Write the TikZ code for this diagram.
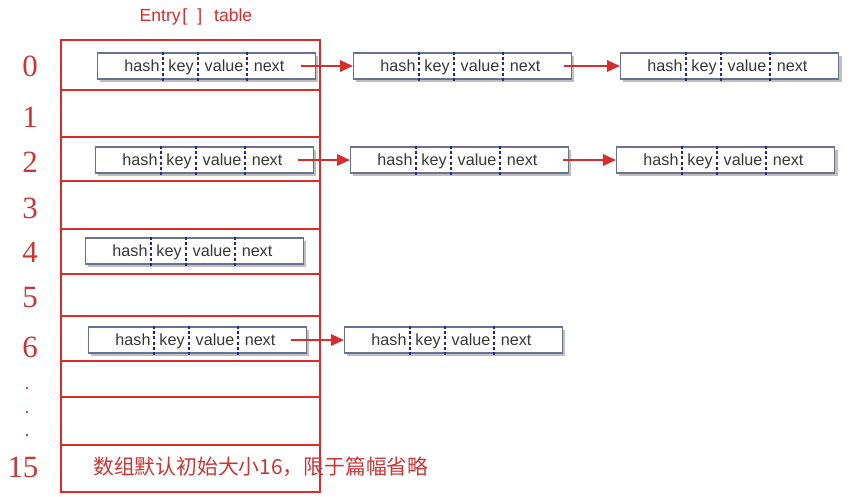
\documentclass[tikz,border=0pt]{standalone}
\usepackage{fontspec}
\setmainfont{Liberation Sans}
\newfontfamily\numfont{Liberation Serif}
\newfontfamily\cjk{Noto Sans CJK SC}
\usepackage{tikz}
\usetikzlibrary{arrows.meta,shadows}
\definecolor{tblred}{RGB}{215,45,45}
\definecolor{numred}{RGB}{200,55,55}
\definecolor{boxline}{RGB}{105,115,145}
\definecolor{dashblue}{RGB}{40,40,140}
\definecolor{celltext}{RGB}{55,55,55}
\newcommand{\hashentry}[3]{%
\node[entrybox,anchor=west] (#1) at (#2,#3) {};
\draw[divider] ([xshift=1.65cm,yshift=0.02cm]#1.north west) -- ([xshift=1.65cm,yshift=-0.08cm]#1.south west);
\draw[divider] ([xshift=2.525cm,yshift=0.02cm]#1.north west) -- ([xshift=2.525cm,yshift=-0.08cm]#1.south west);
\draw[divider] ([xshift=3.75cm,yshift=0.02cm]#1.north west) -- ([xshift=3.75cm,yshift=-0.08cm]#1.south west);
\node[celltxt] (#1-hash) at ([xshift=1.125cm,yshift=-0.13cm]#1.west) {hash};
\node[celltxt] (#1-key) at ([xshift=2.1cm,yshift=-0.13cm]#1.west) {key};
\node[celltxt] (#1-value) at ([xshift=3.175cm,yshift=-0.13cm]#1.west) {value};
\node[celltxt] (#1-next) at ([xshift=4.3cm,yshift=-0.13cm]#1.west) {next};
}

\begin{document}
\begin{tikzpicture}[x=0.025cm,y=-0.025cm,
  tbl/.style={draw=tblred,line width=1.4pt},
  entrybox/.style={draw=boxline,line width=0.9pt,fill=white,minimum width=5.45cm,minimum height=0.65cm,inner sep=0pt,
    drop shadow={shadow xshift=0.07cm,shadow yshift=-0.07cm,fill=gray,opacity=0.5}},
  divider/.style={draw=dashblue,line width=1pt,dash pattern=on 2.2pt off 1.6pt},
  celltxt/.style={text=celltext,font=\fontsize{11.5}{12}\selectfont,inner sep=0pt,anchor=base},
  nxt/.style={draw=tblred,line width=1.5pt,-{Triangle[length=0.32cm,width=0.28cm]}},
  rowno/.style={text=numred,font=\numfont\fontsize{22}{24}\selectfont,inner sep=0pt},
  rowdot/.style={text=numred,font=\numfont\fontsize{14}{14}\selectfont,inner sep=0pt}]
\useasboundingbox (0,0) rectangle (861,496);
\fill[white] (0,0) rectangle (861,496);
\node[text=tblred,font=\fontsize{12.5}{14}\selectfont] (title) at (196,17) {Entry\hspace{0.04cm}[\hspace{0.25cm}]\hspace{0.3cm}table};
\draw[tbl] (61,40) rectangle (320,492);
\draw[tbl] (61,90) -- (320,90);
\draw[tbl] (61,137) -- (320,137);
\draw[tbl] (61,181) -- (320,181);
\draw[tbl] (61,229) -- (320,229);
\draw[tbl] (61,274) -- (320,274);
\draw[tbl] (61,316) -- (320,316);
\draw[tbl] (61,361) -- (320,361);
\draw[tbl] (61,397) -- (320,397);
\draw[tbl] (61,445) -- (320,445);
\node[rowno] (r0) at (30,66) {0};
\node[rowno] (r1) at (30,117) {1};
\node[rowno] (r2) at (30,162) {2};
\node[rowno] (r3) at (30,208) {3};
\node[rowno] (r4) at (30,252) {4};
\node[rowno] (r5) at (30,298) {5};
\node[rowno] (r6) at (30,347) {6};
\node[rowdot] (d1) at (27,389) {.};
\node[rowdot] (d2) at (27,413) {.};
\node[rowdot] (d3) at (27,436) {.};
\node[rowno] (r15) at (23,467) {15};
\node[text=numred,font=\cjk\fontsize{14.8}{16}\selectfont,anchor=west,inner sep=0pt] (note) at (93,467) {数组默认初始大小16，限于篇幅省略};
\hashentry{e00}{97}{66}
\hashentry{e01}{353}{66}
\hashentry{e02}{620}{66}
\hashentry{e20}{95}{160}
\hashentry{e21}{350}{160}
\hashentry{e22}{616}{160}
\hashentry{e40}{85}{251}
\hashentry{e60}{88}{340}
\hashentry{e61}{344}{340}
\draw[nxt] ([xshift=-0.38cm]e00.east) -- (e01.west);
\draw[nxt] ([xshift=-0.2cm]e01.east) -- (e02.west);
\draw[nxt] ([xshift=-0.42cm]e20.east) -- (e21.west);
\draw[nxt] ([xshift=-0.15cm]e21.east) -- (e22.west);
\draw[nxt] ([xshift=-0.42cm]e60.east) -- (e61.west);
\end{tikzpicture}
\end{document}
